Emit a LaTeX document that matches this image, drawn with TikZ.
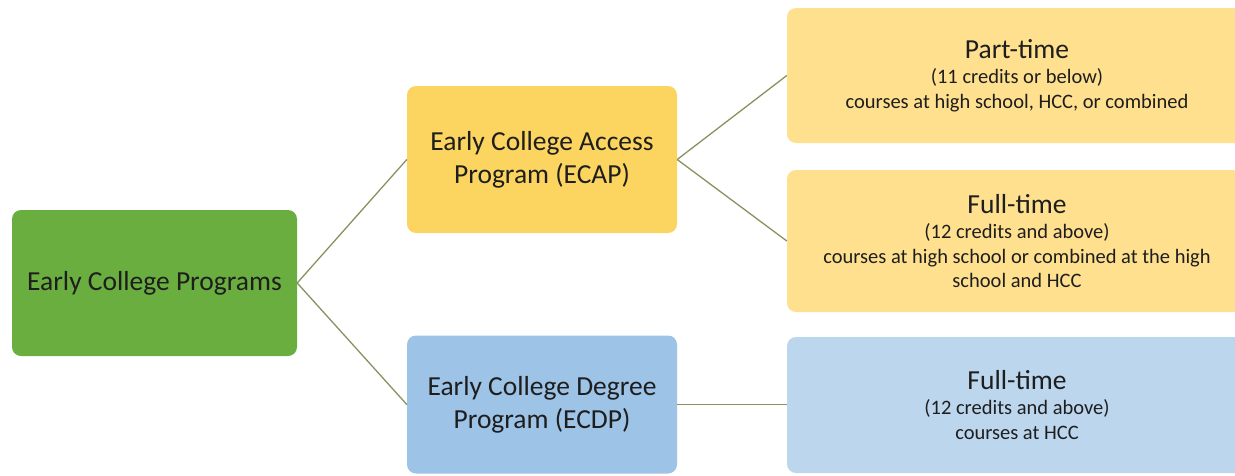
\documentclass[tikz,border=0pt]{standalone}
\usepackage{fontspec}
\setmainfont{Carlito}
\definecolor{grn}{HTML}{6BAE40}
\definecolor{gold}{HTML}{FCD560}
\definecolor{ltgold}{HTML}{FEE08F}
\definecolor{blu}{HTML}{9DC3E6}
\definecolor{ltblu}{HTML}{BCD6EE}
\definecolor{lnk}{HTML}{86935F}
\definecolor{txt}{HTML}{1E1E1E}
\tikzset{
  box/.style={rounded corners=9pt, inner sep=0pt, align=center, text=txt, anchor=center},
  big/.style={font=\fontsize{27.5}{33}\selectfont},
  small/.style={font=\fontsize{20.5}{24.5}\selectfont},
  link/.style={draw=lnk, line width=1.3pt}
}
\newcommand{\ttl}[1]{{\fontsize{27.5}{27.5}\selectfont #1}\\[1pt]}
\begin{document}
\begin{tikzpicture}[x=1pt,y=-1pt]
\useasboundingbox (0,0) rectangle (1235,475);
\node[box, big, fill=grn, minimum width=285pt, minimum height=146pt] (root) at (154.5,283) {Early College Programs};
\node[box, big, fill=gold, minimum width=270pt, minimum height=147pt] (ecap) at (542,159.5) {Early College Access\\Program (ECAP)};
\node[box, big, fill=blu, minimum width=270pt, minimum height=138pt] (ecdp) at (542,404.5) {Early College Degree\\Program (ECDP)};
\node[box, small, fill=ltgold, minimum width=460pt, minimum height=135pt] (pt) at (1017,75.5) {\ttl{Part-time}(11 credits or below)\\courses at high school, HCC, or combined};
\node[box, small, fill=ltgold, minimum width=460pt, minimum height=142pt] (ft1) at (1017,241) {\ttl{Full-time}(12 credits and above)\\courses at high school or combined at the high\\school and HCC};
\node[box, small, fill=ltblu, minimum width=460pt, minimum height=136pt] (ft2) at (1017,405) {\ttl{Full-time}(12 credits and above)\\courses at HCC};
\draw[link] (root.east) -- (ecap.west);
\draw[link] (root.east) -- (ecdp.west);
\draw[link] (ecap.east) -- (pt.west);
\draw[link] (ecap.east) -- (ft1.west);
\draw[link] (ecdp.east) -- (ecdp.east -| ft2.west);
\end{tikzpicture}
\end{document}
